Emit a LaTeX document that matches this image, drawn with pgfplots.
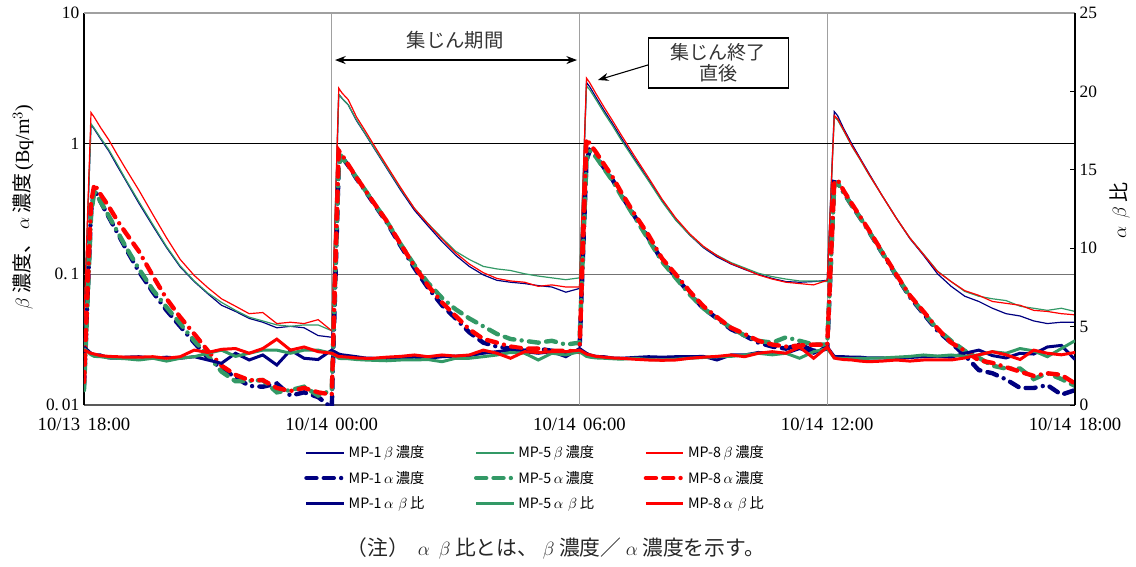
\documentclass[border=0pt]{standalone}
\usepackage{fontspec}
\setmainfont{Liberation Serif}
\newfontfamily\jp{Noto Sans CJK JP}
\usepackage{pgfplots}
\pgfplotsset{compat=1.18}
\usepackage{pgfplotstable}
\usetikzlibrary{arrows.meta}
\definecolor{cA}{HTML}{000080}
\definecolor{cB}{HTML}{339966}
\definecolor{cC}{HTML}{FF0000}
\definecolor{gridg}{HTML}{A0A0A0}
\newcommand{\fa}{\makebox[1em]{$\alpha$}}
\newcommand{\fb}{\makebox[1em]{$\beta$}}

\pgfplotstableread{
t b1 b5 b8 a1 a5 a8 r1 r5 r8
0 0.040 0.040 0.045 0.014 0.013 0.015 3.7 3.6 3.5
0.17 1.40 1.42 1.73 0.30 0.28 0.35 3.3 3.2 3.3
0.25 1.29 1.31 1.59 0.45 0.44 0.49 3.2 3.1 3.25
0.4 1.09 1.11 1.33 0.36 0.36 0.41 3.19 3.08 3.15
0.6 0.88 0.90 1.07 0.274 0.28 0.33 3.0 3.0 3.1
0.8 0.68 0.70 0.83 0.21 0.215 0.26 2.98 2.98 3.08
1.0 0.53 0.54 0.65 0.16 0.165 0.21 3.05 2.95 3.05
1.33 0.35 0.36 0.44 0.105 0.11 0.15 3.08 2.87 3.05
1.67 0.234 0.24 0.286 0.073 0.076 0.097 2.98 2.98 3.08
2.0 0.160 0.163 0.19 0.053 0.056 0.065 3.05 2.8 2.98
2.33 0.114 0.116 0.13 0.040 0.042 0.047 2.98 2.98 3.08
2.67 0.088 0.089 0.098 0.030 0.031 0.035 3.08 3.08 3.5
3.0 0.071 0.072 0.079 0.023 0.024 0.026 2.87 3.3 3.35
3.33 0.058 0.061 0.065 0.019 0.018 0.020 2.66 3.5 3.55
3.67 0.052 0.053 0.057 0.0163 0.0152 0.017 3.3 3.1 3.6
4.0 0.046 0.047 0.050 0.014 0.0153 0.0155 2.87 3.3 3.3
4.33 0.043 0.044 0.051 0.0138 0.0155 0.0155 3.19 3.5 3.6
4.67 0.039 0.041 0.042 0.0146 0.0125 0.0135 2.55 3.5 4.2
5.0 0.040 0.040 0.043 0.0118 0.013 0.0128 3.5 3.3 3.5
5.33 0.039 0.041 0.042 0.0125 0.0138 0.0135 2.98 3.5 3.7
5.67 0.034 0.041 0.045 0.0115 0.0118 0.0125 2.9 3.5 3.4
6.0 0.033 0.037 0.037 0.0095 0.013 0.012 3.5 3.3 3.3
6.17 2.39 2.39 2.66 0.70 0.70 0.885 3.25 2.98 3.08
6.25 2.22 2.22 2.44 0.786 0.786 0.82 3.2 2.95 3.08
6.4 1.98 1.98 2.17 0.68 0.68 0.69 3.15 2.95 3.05
6.6 1.50 1.52 1.60 0.54 0.55 0.55 3.08 2.9 3.0
6.8 1.20 1.21 1.27 0.44 0.445 0.445 3.0 2.87 2.98
7.0 0.95 0.96 1.0 0.355 0.36 0.36 2.98 2.85 2.98
7.33 0.65 0.66 0.68 0.25 0.255 0.256 2.98 2.82 3.05
7.67 0.44 0.45 0.46 0.165 0.17 0.17 3.0 2.87 3.1
8.0 0.31 0.32 0.32 0.112 0.118 0.116 3.05 2.87 3.19
8.33 0.235 0.245 0.243 0.079 0.086 0.082 2.98 2.9 3.08
8.67 0.178 0.19 0.186 0.058 0.066 0.061 3.08 2.76 3.19
9.0 0.14 0.15 0.146 0.046 0.054 0.048 3.12 2.98 3.12
9.33 0.115 0.13 0.12 0.036 0.046 0.038 3.15 2.98 3.19
9.67 0.099 0.115 0.103 0.030 0.040 0.032 3.3 3.08 3.5
10.0 0.090 0.110 0.093 0.028 0.035 0.030 3.4 3.19 3.3
10.33 0.087 0.107 0.089 0.027 0.032 0.028 3.5 3.35 2.98
10.67 0.085 0.101 0.087 0.026 0.031 0.027 3.4 3.3 3.4
11.0 0.082 0.097 0.081 0.027 0.030 0.027 3.3 2.87 3.35
11.33 0.080 0.094 0.083 0.026 0.031 0.026 3.4 3.3 3.4
11.67 0.073 0.091 0.080 0.025 0.029 0.026 3.08 3.19 3.4
12.0 0.078 0.094 0.080 0.026 0.030 0.0255 3.6 3.4 3.5
12.17 2.94 2.77 3.17 0.75 0.75 1.09 3.3 3.1 3.25
12.25 2.72 2.58 2.92 0.885 0.885 1.0 3.2 3.05 3.2
12.4 2.26 2.17 2.41 0.80 0.79 0.86 3.1 3.0 3.1
12.6 1.78 1.71 1.89 0.65 0.64 0.69 3.08 2.98 3.05
12.8 1.42 1.37 1.50 0.53 0.52 0.557 3.0 2.95 3.0
13.0 1.12 1.08 1.18 0.41 0.405 0.43 2.98 2.92 2.98
13.33 0.77 0.75 0.806 0.28 0.275 0.29 3.03 2.98 2.92
13.67 0.53 0.52 0.55 0.19 0.185 0.20 3.08 2.9 2.87
14.0 0.365 0.36 0.376 0.127 0.125 0.132 3.05 2.87 2.85
14.33 0.262 0.26 0.27 0.096 0.094 0.10 3.08 2.92 2.87
14.67 0.20 0.20 0.204 0.071 0.07 0.074 3.08 2.98 2.98
15.0 0.16 0.162 0.164 0.055 0.055 0.057 3.1 3.03 3.05
15.33 0.136 0.14 0.139 0.046 0.046 0.047 2.87 3.08 3.1
15.67 0.12 0.123 0.121 0.038 0.039 0.039 3.19 3.1 3.19
16.0 0.109 0.112 0.11 0.034 0.034 0.035 3.19 3.19 3.08
16.33 0.10 0.102 0.099 0.030 0.031 0.031 3.35 3.3 3.3
16.67 0.093 0.096 0.092 0.028 0.030 0.029 3.3 3.2 3.4
17.0 0.088 0.092 0.087 0.027 0.033 0.028 3.3 3.3 3.3
17.33 0.087 0.089 0.085 0.029 0.031 0.0285 3.6 2.98 3.7
17.67 0.088 0.089 0.083 0.026 0.029 0.029 3.3 3.4 2.98
18.0 0.090 0.088 0.090 0.027 0.029 0.029 3.7 3.6 3.7
18.17 1.76 1.60 1.64 0.507 0.48 0.50 3.1 3.0 3.0
18.25 1.64 1.52 1.55 0.50 0.50 0.53 3.08 2.98 2.95
18.4 1.30 1.25 1.27 0.42 0.42 0.435 3.08 2.95 2.9
18.6 0.99 0.95 0.96 0.335 0.335 0.345 3.05 2.95 2.87
18.8 0.77 0.75 0.76 0.27 0.27 0.276 3.05 2.98 2.8
19.0 0.60 0.585 0.59 0.215 0.215 0.22 3.0 2.98 2.76
19.33 0.40 0.40 0.40 0.146 0.147 0.149 3.0 3.0 2.8
19.67 0.27 0.27 0.27 0.098 0.099 0.10 2.98 3.05 2.87
20.0 0.188 0.19 0.19 0.067 0.068 0.069 3.03 3.1 2.8
20.33 0.14 0.143 0.142 0.05 0.051 0.052 3.08 3.19 2.87
20.67 0.101 0.106 0.105 0.037 0.038 0.0385 3.1 3.12 2.87
21.0 0.081 0.088 0.088 0.030 0.031 0.030 3.05 3.19 2.87
21.33 0.068 0.074 0.075 0.024 0.026 0.026 3.3 3.1 3.0
21.67 0.062 0.068 0.069 0.0185 0.023 0.022 3.5 3.19 3.2
22.0 0.055 0.065 0.062 0.0175 0.020 0.021 3.15 3.4 3.4
22.33 0.050 0.063 0.060 0.0157 0.019 0.0195 3.0 3.3 3.2
22.67 0.048 0.057 0.058 0.0135 0.019 0.018 3.3 3.6 2.9
23.0 0.044 0.055 0.053 0.0135 0.0158 0.0167 3.25 3.45 3.5
23.33 0.042 0.053 0.052 0.0142 0.0175 0.0175 3.7 3.08 3.3
23.67 0.043 0.055 0.050 0.012 0.0158 0.017 3.8 3.6 3.2
24.0 0.043 0.052 0.049 0.013 0.014 0.0146 2.9 4.1 3.35
}\data

\tikzset{adash/.style={line width=3.3pt, line cap=round, dash pattern=on 7.5pt off 5.5pt on 7.5pt off 5.5pt on 0pt off 5.5pt}}

\begin{document}
\begin{tikzpicture}
\begin{axis}[
  name=main,
  at={(0,0)}, anchor=south west,
  scale only axis, width=743.25pt, height=294pt,
  xmin=0, xmax=24, ymode=log, ymin=0.01, ymax=10,
  axis x line*=bottom, axis y line*=left,
  x axis line style={draw=black!65, line width=0.8pt, -},
  y axis line style={draw=black, line width=0.8pt, -},
  xtick={0,6,12,18,24},
  xticklabels={10/13\hspace{0.4em}18:00,10/14\hspace{0.4em}00:00,10/14\hspace{0.4em}06:00,10/14\hspace{0.4em}12:00,10/14\hspace{0.4em}18:00},
  ytick={0.01,0.1,1,10}, yticklabels={0.\,01,0.\,1,1,10},
  yminorticks=false,
  tick align=inside,
  x tick style={draw=none},
  y tick style={black, line width=0.6pt},
  major tick length=3.5pt,
  ticklabel style={font=\fontsize{13}{15}\selectfont},
  xticklabel style={yshift=-6pt, font=\fontsize{14}{16}\selectfont},
  ylabel={\fb 濃度、\fa 濃度{\rmfamily\,(Bq/m$^3$)}},
  ylabel style={at={(axis description cs:-0.0616,0.50)}, anchor=center, font=\jp\fontsize{15}{17}\selectfont},
  legend columns=3,
  legend style={draw=none, fill=none, at={(axis description cs:0.222,-0.097)}, anchor=north west,
    font=\jp\fontsize{10.7}{12}\selectfont, row sep=4.3pt, inner sep=0pt,
    /tikz/every even column/.append style={column sep=17pt}, cells={anchor=west}},
  legend image code/.code={\draw[#1] (0pt,0pt) -- (28pt,0pt);},
  clip mode=individual,
]
\draw[gridg, line width=1pt] (axis cs:6,0.01) -- (axis cs:6,10);
\draw[gridg, line width=1pt] (axis cs:12,0.01) -- (axis cs:12,10);
\draw[gridg, line width=1pt] (axis cs:18,0.01) -- (axis cs:18,10);
\draw[black, line width=0.7pt] (axis cs:0,1) -- (axis cs:24,1);
\draw[black!55, line width=1.2pt] (axis cs:0,0.1) -- (axis cs:24,0.1);

\addplot[cA, line width=0.9pt] table[x=t,y=b1]{\data};
\addlegendentry{\makebox[75pt][l]{MP-1\fb 濃度}}
\addplot[cB, line width=0.9pt] table[x=t,y=b5]{\data};
\addlegendentry{\makebox[75pt][l]{MP-5\fb 濃度}}
\addplot[cC, line width=0.9pt] table[x=t,y=b8]{\data};
\addlegendentry{\makebox[75pt][l]{MP-8\fb 濃度}}
\addplot[cA, adash] table[x=t,y=a1]{\data};
\addlegendentry{\makebox[75pt][l]{MP-1\fa 濃度}}
\addplot[cB, adash] table[x=t,y=a5]{\data};
\addlegendentry{\makebox[75pt][l]{MP-5\fa 濃度}}
\addplot[cC, adash] table[x=t,y=a8]{\data};
\addlegendentry{\makebox[75pt][l]{MP-8\fa 濃度}}
\addlegendimage{cA, line width=2.25pt}
\addlegendentry{\makebox[75pt][l]{MP-1\fa\fb 比}}
\addlegendimage{cB, line width=2.25pt}
\addlegendentry{\makebox[75pt][l]{MP-5\fa\fb 比}}
\addlegendimage{cC, line width=2.25pt}
\addlegendentry{\makebox[75pt][l]{MP-8\fa\fb 比}}

\draw[{Stealth[length=8pt,width=6pt]}-{Stealth[length=8pt,width=6pt]}, line width=0.9pt] (rel axis cs:0.2533,0.880) -- (rel axis cs:0.4975,0.880);
\node[font=\jp\fontsize{14.5}{16}\selectfont, text=black!80] at (rel axis cs:0.3744,0.931) {集じん期間};
\draw[-{Stealth[length=8pt,width=6pt]}, line width=0.8pt] (rel axis cs:0.5691,0.8674) -- (rel axis cs:0.5186,0.8291);
\node[draw=black, line width=0.8pt, fill=white, align=center, minimum width=105pt, minimum height=37.5pt, inner sep=1pt, text=black!80, font=\jp\fontsize{14.3}{15.5}\selectfont] at (rel axis cs:0.640,0.8724) {集じん終了\\直後};
\end{axis}

\begin{axis}[
  at={(0,0)}, anchor=south west,
  scale only axis, width=743.25pt, height=294pt,
  xmin=0, xmax=24, ymin=0, ymax=25,
  axis y line*=right, axis x line*=top,
  x axis line style={draw=gridg, line width=0.8pt, -},
  y axis line style={draw=black, line width=0.8pt, -},
  xtick=\empty,
  ytick={0,5,10,15,20,25}, yticklabels={0,5,10,15,20,25},
  tick align=inside, major tick length=3.5pt,
  y tick style={black, line width=0.6pt},
  ticklabel style={font=\fontsize{13}{15}\selectfont},
  ylabel={\fa\fb 比},
  ylabel style={at={(axis description cs:1.045,0.49)}, anchor=center, font=\jp\fontsize{15}{17}\selectfont},
]
\addplot[cA, line width=2.25pt] table[x=t,y=r1]{\data};
\addplot[cB, line width=2.25pt] table[x=t,y=r5]{\data};
\addplot[cC, line width=2.25pt] table[x=t,y=r8]{\data};
\end{axis}

\node[font=\jp\fontsize{15.6}{17}\selectfont, text=black!85] at (354pt,-107.25pt) {（注）\hspace{0.2em}\fa\fb 比とは、\fb 濃度／\fa 濃度を示す。};

\pgfresetboundingbox
\path[use as bounding box] (-63pt,-121.5pt) rectangle (789pt,303.75pt);
\end{tikzpicture}
\end{document}
